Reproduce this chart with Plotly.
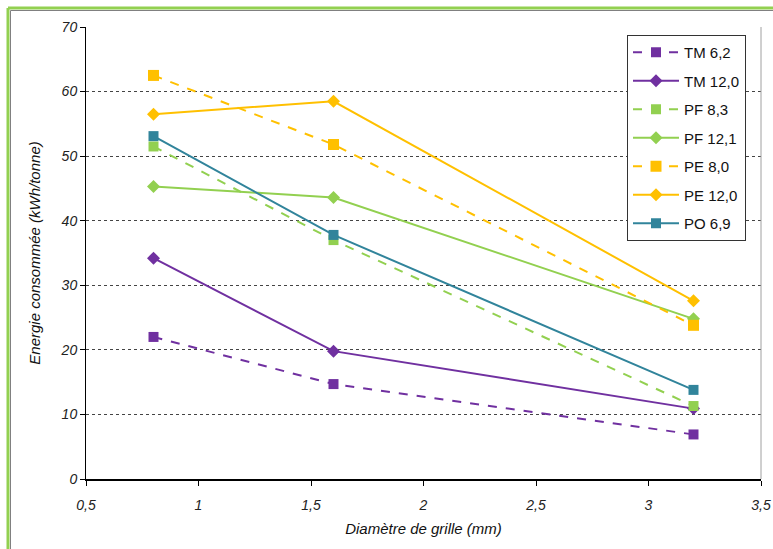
import plotly.graph_objects as go

x_vals = [0.8, 1.6, 3.2]
series_names = ["TM 6,2", "TM 12,0", "PF 8,3", "PF 12,1", "PE 8,0", "PE 12,0", "PO 6,9"]
tm_62 = [22.0, 14.7, 6.9]
tm_120 = [34.2, 19.8, 10.9]
pf_83 = [51.5, 37.0, 11.3]
pf_121 = [45.3, 43.6, 24.8]
pe_80 = [62.5, 51.8, 23.8]
pe_120 = [56.5, 58.5, 27.6]
po_69 = [53.1, 37.8, 13.8]
series_values = [tm_62, tm_120, pf_83, pf_121, pe_80, pe_120, po_69]
colors = ["#7030A0", "#7030A0", "#92D050", "#92D050", "#FFC000", "#FFC000", "#31849B"]
dashes = ["dash", "solid", "dash", "solid", "dash", "solid", "solid"]
symbols = ["square", "diamond", "square", "diamond", "square", "diamond", "square"]
sizes = [10, 10, 10, 10, 11, 10, 10]

fig = go.Figure()
for i, (name, vals) in enumerate(zip(series_names, series_values)):
    fig.add_trace(go.Scatter(
        x=x_vals, y=vals, name=name, mode="lines+markers",
        line=dict(color=colors[i], width=2, dash=dashes[i]),
        marker=dict(symbol=symbols[i], size=sizes[i], color=colors[i]),
        legendgroup=name,
    ))

W, H = 773, 549
ml, mr, mt, mb = 86, 12, 27, 70
pw, ph = W - ml - mr, H - mt - mb

def px_x(p):
    return (p - ml) / pw

def px_y(p):
    return (H - mb - p) / ph

shapes = [
    dict(type="line", xref="paper", yref="paper", x0=1, x1=1, y0=0, y1=1,
         line=dict(color="#A0A0A0", width=1)),
    dict(type="line", xref="paper", yref="paper", x0=px_x(8), x1=px_x(8), y0=px_y(560), y1=px_y(8),
         line=dict(color="#92D050", width=3)),
    dict(type="line", xref="paper", yref="paper", x0=px_x(8), x1=px_x(790), y0=px_y(8), y1=px_y(8),
         line=dict(color="#92D050", width=3)),
    dict(type="line", xref="paper", yref="paper", x0=px_x(10.5), x1=px_x(10.5), y0=px_y(560), y1=px_y(10.5),
         line=dict(color="#808080", width=1)),
    dict(type="line", xref="paper", yref="paper", x0=px_x(10.5), x1=px_x(790), y0=px_y(10.5), y1=px_y(10.5),
         line=dict(color="#808080", width=1)),
]

FONT = "Liberation Sans"
tick_font = dict(family=FONT, size=14, color="#222222")

fig.update_layout(
    width=W, height=H,
    margin=dict(l=ml, r=mr, t=mt, b=mb, autoexpand=False),
    paper_bgcolor="white", plot_bgcolor="white",
    font=dict(family=FONT, color="#111111"),
    shapes=shapes,
    xaxis=dict(
        range=[0.5, 3.5],
        tickvals=[0.5, 1, 1.5, 2, 2.5, 3, 3.5],
        ticktext=["<i>0,5</i>", "<i>1</i>", "<i>1,5</i>", "<i>2</i>", "<i>2,5</i>", "<i>3</i>", "<i>3,5</i>"],
        showgrid=False, zeroline=False, automargin=False,
        showline=True, linecolor="black", linewidth=2,
        ticks="outside", ticklen=5, tickcolor="black", tickwidth=1,
        ticklabelstandoff=7,
        tickfont=tick_font,
        title=dict(text="<i>Diamètre de grille (mm)</i>", font=dict(family=FONT, size=15, color="#111111"), standoff=12),
    ),
    yaxis=dict(
        range=[0, 70], tickvals=[0, 10, 20, 30, 40, 50, 60, 70],
        ticktext=["<i>%d</i>" % v for v in [0, 10, 20, 30, 40, 50, 60, 70]],
        showgrid=True, gridcolor="#444444", griddash="dot", gridwidth=1,
        zeroline=False, automargin=False,
        showline=True, linecolor="black", linewidth=1,
        ticks="outside", ticklen=5, tickcolor="black", tickwidth=1,
        tickfont=tick_font,
        title=dict(text="<i>Energie consommée (kWh/tonne)</i>", font=dict(family=FONT, size=15, color="#111111"), standoff=16),
    ),
    legend=dict(
        x=px_x(627), y=px_y(35), xanchor="left", yanchor="top",
        bordercolor="#333333", borderwidth=1, bgcolor="white",
        font=dict(family=FONT, size=15, color="#111111"),
        traceorder="grouped", tracegroupgap=6, itemwidth=46,
    ),
)

fig.write_html("out.html")
